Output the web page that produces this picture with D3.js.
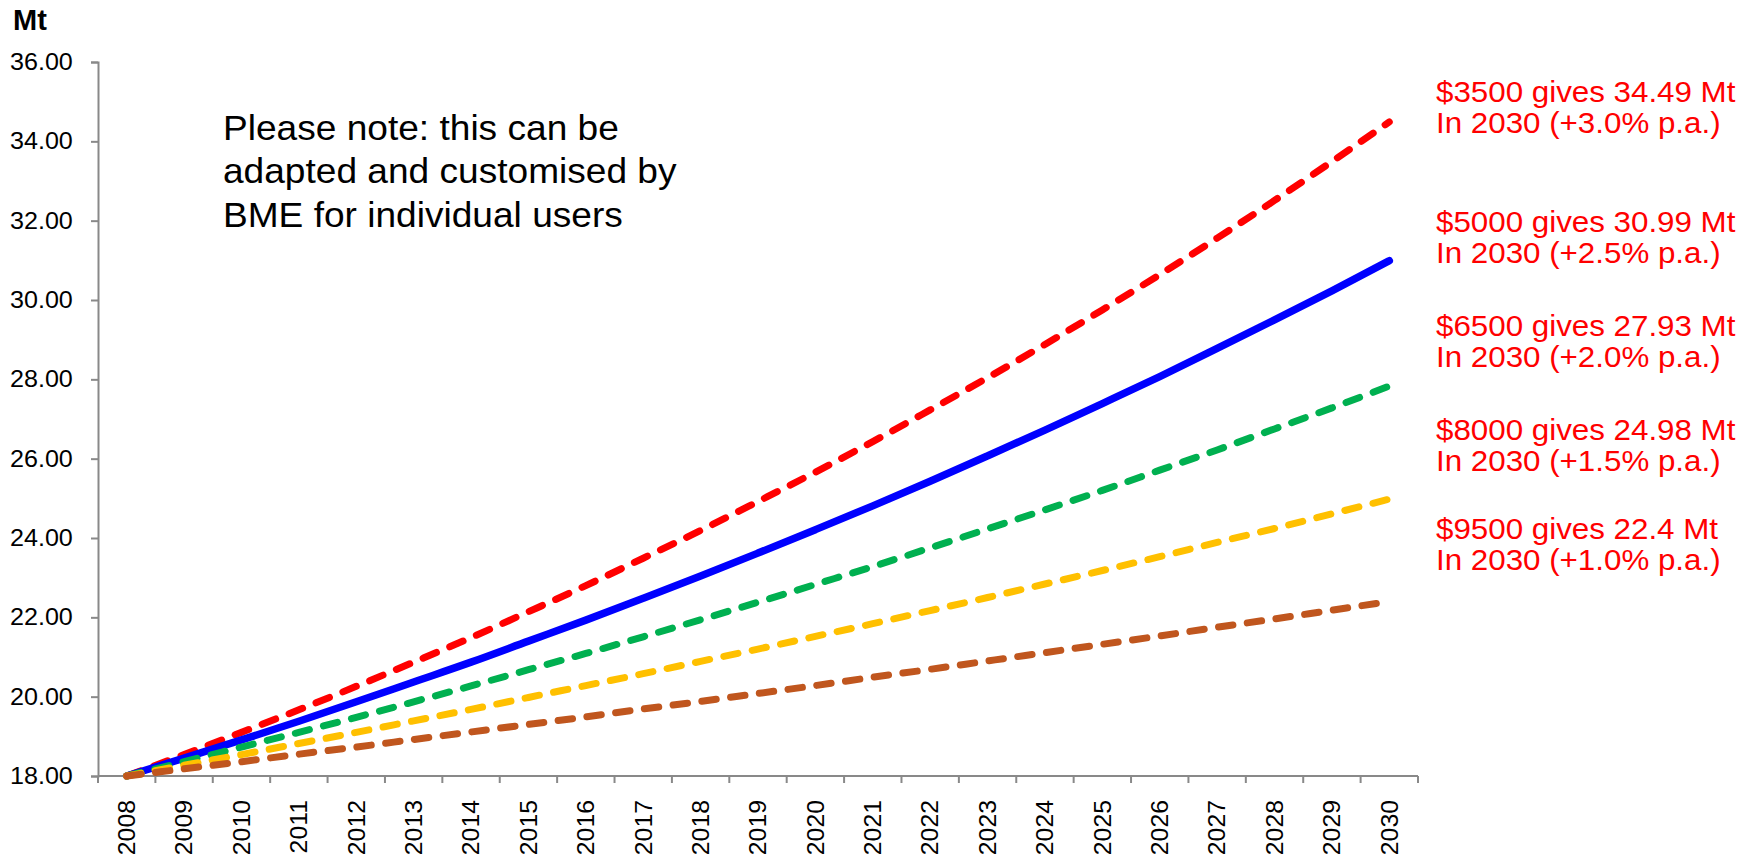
<!DOCTYPE html>
<html>
<head>
<meta charset="utf-8">
<script src="https://cdn.jsdelivr.net/npm/d3@7"></script>
<style>
  html, body { margin: 0; padding: 0; background: #fff; }
  svg { display: block; font-family: "Liberation Sans", Arial, sans-serif; }
</style>
</head>
<body>
<div id="chart"></div>
<script>
// years on the category axis
const years = ['2008','2009','2010','2011','2012','2013','2014','2015','2016','2017','2018','2019',
  '2020','2021','2022','2023','2024','2025','2026','2027','2028','2029','2030'];

// Mt
const price3500 = [18.00,18.54,19.10,19.67,20.26,20.87,21.49,22.14,22.80,23.49,24.19,24.92,
  25.66,26.43,27.23,28.04,28.88,29.75,30.64,31.56,32.51,33.49,34.49];
const price5000 = [18.00,18.45,18.91,19.38,19.87,20.37,20.87,21.40,21.93,22.48,23.04,23.62,
  24.21,24.81,25.43,26.07,26.72,27.39,28.07,28.78,29.50,30.23,30.99];
const price6500 = [18.00,18.36,18.73,19.10,19.48,19.87,20.27,20.68,21.09,21.51,21.94,22.38,
  22.83,23.28,23.75,24.23,24.71,25.20,25.71,26.22,26.75,27.28,27.83];
const price8000 = [18.00,18.27,18.54,18.82,19.10,19.39,19.68,19.98,20.28,20.58,20.89,21.20,
  21.52,21.84,22.17,22.50,22.84,23.18,23.53,23.89,24.24,24.61,24.98];
const price9500 = [18.00,18.18,18.36,18.55,18.73,18.92,19.11,19.30,19.49,19.69,19.88,20.08,
  20.28,20.49,20.69,20.90,21.11,21.32,21.53,21.75,21.96,22.18,22.40];

const yTicks = [18, 20, 22, 24, 26, 28, 30, 32, 34, 36];

const labelLines = [
  ['$3500 gives 34.49 Mt', 'In 2030 (+3.0% p.a.)'],
  ['$5000 gives 30.99 Mt', 'In 2030 (+2.5% p.a.)'],
  ['$6500 gives 27.93 Mt', 'In 2030 (+2.0% p.a.)'],
  ['$8000 gives 24.98 Mt', 'In 2030 (+1.5% p.a.)'],
  ['$9500 gives 22.4 Mt', 'In 2030 (+1.0% p.a.)']
];
const noteLines = ['Please note: this can be', 'adapted and customised by', 'BME for individual users'];

const width = 1750, height = 862;
const plotLeft = 98, plotRight = 1418, plotTop = 62, plotBottom = 776;
const axisColor = '#898989';

const svg = d3.select('#chart').append('svg')
  .attr('width', width)
  .attr('height', height);

const x = d3.scaleBand().domain(years).range([plotLeft, plotRight]).padding(0);
const y = d3.scaleLinear().domain([18, 36]).range([plotBottom, plotTop]);

// y axis
const yAxis = svg.append('g')
  .attr('transform', `translate(${plotLeft},0)`)
  .call(d3.axisLeft(y).tickValues(yTicks).tickSize(7).tickPadding(16.5).tickFormat(d3.format('.2f')));
yAxis.select('.domain').attr('stroke', axisColor).attr('stroke-width', 2);
yAxis.selectAll('.tick line').attr('stroke', axisColor).attr('stroke-width', 2);
yAxis.selectAll('.tick text')
  .attr('fill', '#000')
  .style('font-size', '23.5px')
  .attr('font-family', '"Liberation Sans", Arial, sans-serif')
  .attr('transform', 'scale(1.07,1)');

// x axis line and boundary ticks
const xAxis = svg.append('g');
xAxis.append('line')
  .attr('x1', plotLeft).attr('x2', plotRight)
  .attr('y1', plotBottom).attr('y2', plotBottom)
  .attr('stroke', axisColor).attr('stroke-width', 2);
xAxis.selectAll('line.tk')
  .data(years.map(d => x(d)).concat([plotRight]))
  .join('line')
  .attr('class', 'tk')
  .attr('x1', d => d).attr('x2', d => d)
  .attr('y1', plotBottom).attr('y2', plotBottom + 7)
  .attr('stroke', axisColor).attr('stroke-width', 2);
xAxis.selectAll('text')
  .data(years)
  .join('text')
  .attr('transform', d => `translate(${x(d) + x.bandwidth() / 2},800) rotate(-90) scale(1.08,1)`)
  .attr('text-anchor', 'end')
  .attr('dy', '0.36em')
  .style('font-size', '23px')
  .attr('fill', '#000')
  .text(d => d);

// series
const series = [
  { values: price3500, color: '#FF0000', dash: '14.5,14.5', w: 7 },
  { values: price5000, color: '#0000FF', dash: null, w: 7.5 },
  { values: price6500, color: '#00B050', dash: '14.5,14.5', w: 7 },
  { values: price8000, color: '#FFC000', dash: '14.5,14.5', w: 7 },
  { values: price9500, color: '#C0561E', dash: '14.5,14.5', w: 7 }
];

const line = d3.line()
  .x((d, i) => x(years[i]) + x.bandwidth() / 2)
  .y(d => y(d))
  .curve(d3.curveMonotoneX);

svg.append('g')
  .selectAll('path')
  .data(series)
  .join('path')
  .attr('d', d => line(d.values))
  .attr('fill', 'none')
  .attr('stroke', d => d.color)
  .attr('stroke-width', d => d.w)
  .attr('stroke-linecap', 'round')
  .attr('stroke-linejoin', 'round')
  .attr('stroke-dasharray', d => d.dash);

// unit title
svg.append('text')
  .attr('x', 13).attr('y', 30)
  .style('font-size', '29px')
  .style('font-weight', 'bold')
  .attr('fill', '#000')
  .text('Mt');

// note
const note = svg.append('g').attr('transform', 'translate(223,140) scale(1.06,1)');
note.selectAll('text')
  .data(noteLines)
  .join('text')
  .attr('x', 0)
  .attr('y', (d, i) => i * 43.5)
  .style('font-size', '35px')
  .attr('fill', '#000')
  .text(d => d);

// end labels
const labelBase = [102, 232, 336, 440, 539];
labelLines.forEach((lines, k) => {
  const g = svg.append('g').attr('transform', `translate(1436,${labelBase[k]}) scale(1.08,1)`);
  g.selectAll('text')
    .data(lines)
    .join('text')
    .attr('x', 0)
    .attr('y', (d, i) => i * 31)
    .style('font-size', '29px')
    .attr('fill', '#FF0000')
    .text(d => d);
});
</script>
</body>
</html>
